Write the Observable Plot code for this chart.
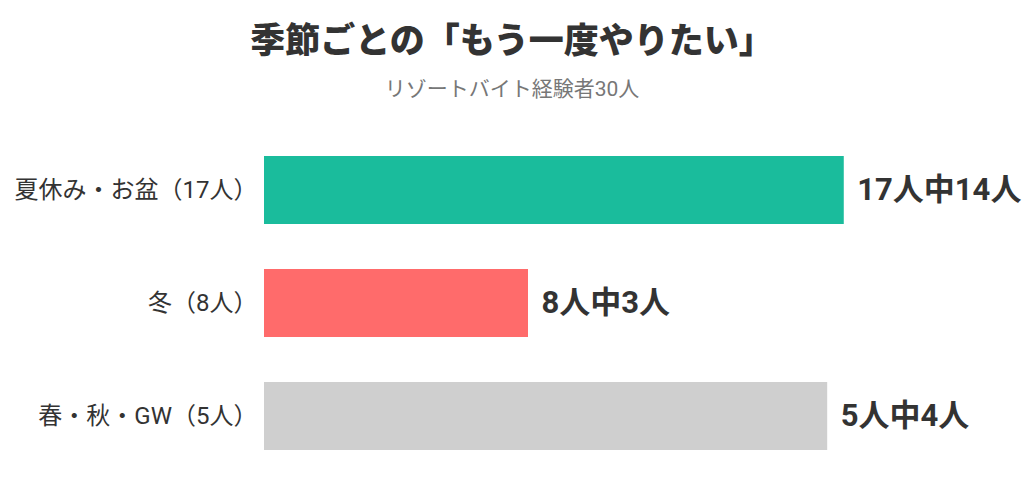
<!DOCTYPE html>
<html><head><meta charset="utf-8">
<script src="https://cdn.jsdelivr.net/npm/d3@7"></script>
<script src="https://cdn.jsdelivr.net/npm/@observablehq/plot@0.6"></script>
<style>
body{margin:0;background:#fff;font-family:Roboto,"Noto Sans CJK JP",sans-serif;}
#title{height:80px;line-height:84px;text-align:center;font-size:35px;font-weight:900;color:#333;}
#sub{height:40px;line-height:18px;text-align:center;font-size:21px;color:#777;}
</style></head>
<body>
<div id="title">季節ごとの「もう一度やりたい」</div>
<div id="sub">リゾートバイト経験者30人</div>
<div id="chart"></div>
<script>
const categories = ["夏休み・お盆（17人）", "冬（8人）", "春・秋・GW（5人）"];
const totals = [17, 8, 5];
const again = [14, 3, 4];
const labels = ["17人中14人", "8人中3人", "5人中4人"];
const colors = ["#1abc9c", "#ff6b6b", "#cfcfcf"];

const data = categories.map((c, i) => ({cat: c, share: again[i] / totals[i], label: labels[i], color: colors[i]}));

const chart = Plot.plot({
  width: 1024,
  height: 360,
  marginLeft: 264,
  marginRight: 56,
  marginTop: 23.6,
  marginBottom: 18.6,
  style: {fontFamily: 'Roboto, "Noto Sans CJK JP", sans-serif', background: "#fff"},
  x: {domain: [0, 1], axis: null},
  y: {domain: categories, paddingInner: 0.4, paddingOuter: 0.1, label: null},
  marks: [
    Plot.barX(data, {y: "cat", x: "share", fill: "color"}),
    Plot.text(data, {y: "cat", x: "share", text: "label", textAnchor: "start", dx: 13, fontSize: 31, fontWeight: "bold", fill: "#333"}),
    Plot.axisY({tickSize: 0, tickPadding: 7, fontSize: 24, fill: "#333", label: null})
  ]
});
chart.querySelectorAll("[aria-label='y-axis tick label'] text").forEach(t => t.setAttribute("font-size", 24));
document.getElementById("chart").appendChild(chart);
</script>
</body></html>
